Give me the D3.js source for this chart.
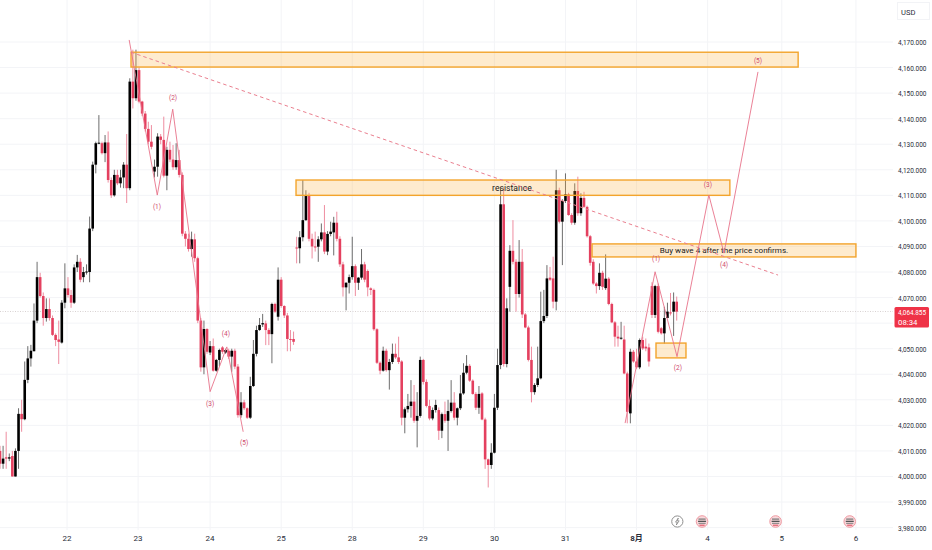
<!DOCTYPE html>
<html>
<head>
<meta charset="utf-8">
<script src="https://d3js.org/d3.v7.min.js"></script>
<style>
html,body{margin:0;padding:0;background:#fff;overflow:hidden}
svg{display:block;font-family:Roboto,"Noto Sans CJK SC",sans-serif}
</style>
</head>
<body>
<svg id="c" width="932" height="550"></svg>
<script>
// Hourly XAU/USD candles
const opens = [
4010,4005,4007.5,4007,4008,4000,4010,4024.5,4022.4,4037.8,
4046.2,4049,4061,4078,4070.6,4062,4065.5,4062,4055.4,4053.6,
4052.4,4068,4073.6,4071,4068,4081.8,4084,4078,4080,4080,
4097,4122,4130.4,4130.4,4126.5,4130.7,4116,4110,4118,4114.7,
4117,4122,4112.8,4154.5,4148,4159,4146.7,4142,4136,4131,
4119.3,4121.2,4133,4131.7,4117.7,4127.8,4124,4121,4123.8,4118,
4095,4093,4089,4092.8,4085.4,4061,4042.7,4057.7,4048.5,4051,
4041.4,4045.6,4050.5,4048.5,4049.2,4046.9,4049.2,4043,4024,4029,
4026.7,4023,4035.4,4048,4057.3,4059.5,4059.9,4057.3,4055.7,4067.5,
4062.5,4077,4066.7,4063,4053.8,4053.8,4089.6,4089.3,4093.6,4100.3,
4110,4093,4090,4089.9,4092.8,4095.5,4088,4094.9,4095.5,4099.3,
4093,4083,4074,4075.8,4078,4082.3,4075.8,4077.8,4083,4080.4,
4073.6,4073,4057.6,4044.5,4041.4,4049.2,4041.6,4044.8,4048,4046.6,
4045,4023,4026.3,4027.6,4029.3,4021.8,4023.7,4045.6,4037,4027.6,
4022.7,4026,4026,4017.9,4024.4,4021.8,4025.6,4028.9,4023,4026.7,
4032.5,4040.6,4043.3,4037.5,4032.3,4026.9,4032.5,4022.3,4006.7,4004.5,
4009.3,4026.9,4043.6,4106.5,4044,4074.2,4088.3,4084,4071.4,4084,
4063.4,4058.3,4045.6,4033,4035.8,4038.4,4060.8,4062.8,4077.8,4077.5,
4068.4,4112,4099.7,4107.8,4110.4,4102.3,4099.3,4111.7,4103,4109,
4105.5,4094,4084,4075.5,4074.5,4079.7,4073.7,4077.4,4067.5,4060.3,
4054.7,4054,4053.6,4040.3,4024.7,4048.8,4045,4042.7,4053.4,4050.8,
4050.5,4074.5,4063.2,4074.5,4058,4056,4062,4064.2,4064.5,4068.4];
const highs = [
4012,4012,4017.5,4009,4010,4011,4026.7,4030,4045,4051,
4051.5,4067.7,4084,4079.7,4072,4069.7,4069.7,4063,4056,4061,
4069,4083.4,4078,4073,4083,4086.7,4085.4,4082,4083,4101.7,
4123.2,4131,4141.4,4131,4133.6,4135,4117,4120,4120,4120,
4123,4134,4155.8,4167,4167,4160,4147,4143,4138.8,4137.5,
4124,4134.3,4134,4140.8,4129,4131,4129.7,4130.4,4127.8,4119,
4096,4095,4095.8,4095,4086,4062,4061,4058,4053,4054,
4046,4050,4051,4050,4050,4050,4050,4044,4033,4030,
4027,4039,4053.4,4059,4062,4063.6,4061,4058,4068,4068,
4081.8,4078,4067,4064,4057.3,4056.7,4093.8,4096,4116,4112,
4111,4095,4095.8,4094,4099,4106.2,4096,4099.7,4101.6,4103.6,
4094,4084,4076,4079,4093.8,4083,4078,4089,4084,4081,
4074,4073.5,4058,4045,4050.8,4050,4046,4052,4052,4054.7,
4045.5,4027,4032.3,4037.7,4035.8,4033,4046.9,4046,4038,4030,
4027,4030,4027,4025,4029.3,4030,4037.7,4033,4027,4039.7,
4044.3,4047.5,4044,4038,4033,4035.4,4033,4023,4007,4013,
4032.3,4050,4113,4113,4069.7,4090.5,4100.3,4085,4092.5,4089,
4064,4059,4050.8,4036.5,4050.8,4072.3,4073,4082.7,4082,4086,
4120,4113,4108.5,4118.6,4111,4103,4114.7,4117.3,4110.8,4111.4,
4106,4094.5,4085,4076,4083.4,4080.5,4086.9,4078,4068,4060.8,
4059,4060.5,4059,4041,4050,4049.5,4050,4054,4054.7,4054,
4052,4076,4075,4075.5,4058.5,4066.4,4068,4071.8,4072,4070.4];
const lows = [
4003,4003,4003,4006,4000,4000,4003,4017.5,4022,4036.5,
4043,4049,4060,4070,4059,4060.6,4061,4055,4051,4044,
4052,4065.8,4070,4066,4067.5,4080,4076,4076,4079,4076,
4096,4118.6,4130,4126,4123,4115,4109,4109.5,4114,4113,
4112.8,4107,4112,4144,4147,4146,4141,4135,4130,4128,
4117,4117.3,4130,4117,4112,4123,4120,4120,4117,4094,
4090,4088,4086,4084,4060,4041,4040,4048,4047.5,4041,
4041,4043.2,4048,4048,4046,4041,4042,4023,4023,4026,
4022.5,4022.5,4035,4047,4057,4058.5,4051.4,4051.4,4044.3,4064,
4061,4066,4062,4049,4049,4051.5,4083.4,4083.4,4092,4100,
4092,4085.3,4088,4084,4092,4087,4086.6,4094,4086.5,4092,
4082,4070.4,4065,4071.6,4077,4070.6,4073,4077,4076,4070.5,
4071,4057,4044,4040,4041,4041,4034,4044,4046,4044,
4020,4016.9,4025,4023,4021,4011.4,4023,4036,4027,4022,
4022,4025,4014.3,4015,4021,4010,4025,4022,4020,4026,
4032,4040,4037,4032,4026,4024.5,4022,4003,3995.7,4003,
4009,4026,4042,4043,4042.7,4064.5,4083,4064.5,4070,4062,
4058,4045,4029,4032,4035,4038,4060,4062,4076.5,4065.8,
4065,4099,4082.7,4107,4102,4098.5,4098.5,4102,4102,4105,
4093.5,4082.5,4075,4071.6,4073,4073,4073,4067,4060,4050.8,
4050.8,4053.5,4040,4020.8,4020.8,4044.5,4042,4042,4049.5,4049,
4043,4062,4062,4056,4055.5,4052,4062,4063,4055,4061];
const closes = [
4005,4007,4007,4007.5,4000,4010,4024.5,4022.4,4037.8,4046.2,
4049.2,4061,4078,4070.6,4062,4065.5,4062,4055.4,4053.4,4052.7,
4068,4073.6,4071,4068,4081.8,4084,4077,4080,4080.2,4097,
4122,4130.4,4130.6,4126.5,4130.7,4116,4110,4118,4114.7,4117,
4122,4112.8,4154.5,4148,4159,4146.7,4142,4136,4131,4129,
4121.2,4133,4131.7,4117.7,4127.8,4124,4121,4123.8,4118,4095,
4093,4089,4092.8,4085.4,4061,4042.7,4057.7,4048.8,4051,4041.4,
4045.6,4049.5,4048.8,4049.5,4046.9,4049.2,4043,4024,4029,4026.7,
4023,4035.4,4048,4057.3,4059.3,4060,4057.3,4055.7,4067.5,4064.5,
4077,4066.7,4063,4053.8,4053.6,4052.7,4089.3,4093.6,4100.3,4110,
4093,4090,4089.8,4092.8,4095.5,4088,4094.9,4095.8,4099.3,4093,
4083,4074,4075.8,4078,4082.3,4075.8,4077.8,4083,4077,4074,
4073,4057.6,4044.5,4041.4,4049.2,4041.6,4044.8,4048,4046.6,4044.8,
4023,4026.3,4027.6,4029.3,4021.8,4023.7,4045.6,4037,4027.6,4022.7,
4026,4028,4017.9,4024.4,4021.8,4025.6,4028.9,4023,4026.7,4032.5,
4040.6,4043.3,4037.5,4032.3,4026.9,4032.3,4022.3,4006.7,4004.5,4009.3,
4026.9,4043.6,4106.5,4044,4065.8,4088.3,4084,4071.4,4084,4063.4,
4058.3,4045.6,4033,4035.8,4038.4,4060.8,4062.8,4077.5,4077,4068.4,
4112,4099.7,4107.8,4110.4,4102.3,4099.3,4111.7,4103,4109,4105.5,
4094,4083.6,4075.5,4074.5,4079.7,4074.2,4077.4,4067.5,4060.3,4054.7,
4054,4054.3,4040.3,4025.3,4048.8,4045,4042.7,4053.4,4050.1,4050.1,
4045,4063.2,4074.5,4056.6,4056,4062,4064.5,4064,4068.4,4064.5];

const priceTicks = d3.range(3980, 4171, 10);
const hiddenPriceLabels = [4060]; // covered by the last-price badge in the reference
const dayLabels = ["22","23","24","25","28","29","30","31","8月","4","5","6"];
const dayBars = [21.7,44.7,68,91,114,137,160,183,206,229,253,277];
const lastPrice = 4064.855;
const lastPriceLabel = "4,064.855";
const countdownLabel = "08:34";
const currency = "USD";

// Drawings: [startBar, endBar, topPrice, bottomPrice]
const zoneBars = [[42.4,258.3],[95.8,236.2],[191.6,277],[212.3,222]];
const zonePrices = [[4166,4160.2],[4116,4110],[4091,4085.9],[4052.2,4046.4]];
const zoneTexts = ["","resistance","Buy wave 4 after the price confirms.",""];
const trendBars = [42.4,251.8];
const trendPrices = [4166,4078.8];
const waveABars = [41.8,50.9,55.9,68,73.4,78.7];
const waveAPrices = [4170.8,4110.1,4143.7,4033.2,4050.7,4017.5];
const waveBBars = [202.3,212,219.1,229.4,234.3,245.3];
const waveBPrices = [4020.9,4080.1,4046.9,4110.1,4087.4,4158.3];
const waveTexts = ["(1)","(2)","(3)","(4)","(5)"];
const waveALabelBars = [50.8,56,68,73.1,79];
const waveALabelPrices = [4105.4,4148.1,4028.4,4055.8,4013.1];
const waveBLabelBars = [212.3,219.4,229.1,234.3,245.3];
const waveBLabelPrices = [4085.1,4042.5,4114,4082.8,4162.6];
const flashBar = 219.2;
const eventBars = [227.2,251,275];

const svg = d3.select("#c");
const x = d3.scaleLinear().domain([0,300]).range([0,927]);
const y = d3.scaleLinear().domain([3980,4170]).range([527.6,42]);

const GRID = "#f3f4f7", RED = "#e4405f", REDW = "#ec8095", BLK = "#000", WICK = "#5c5c5c";

// grid
svg.append("g").selectAll("line").data(priceTicks).join("line")
  .attr("x1",0).attr("x2",893).attr("y1",d=>y(d)).attr("y2",d=>y(d))
  .attr("stroke",GRID).attr("stroke-width",1);
svg.append("g").selectAll("line").data(dayBars).join("line")
  .attr("x1",d=>x(d)).attr("x2",d=>x(d)).attr("y1",0).attr("y2",530)
  .attr("stroke",GRID).attr("stroke-width",1);

// last-price line
svg.append("line").attr("x1",0).attr("x2",893)
  .attr("y1",y(lastPrice)+0.8).attr("y2",y(lastPrice)+0.8)
  .attr("stroke","#d9d2d2").attr("stroke-width",1).attr("stroke-dasharray","1 1.5");

// candles
const bars = d3.range(opens.length).map(i=>({i,o:opens[i],h:highs[i],l:lows[i],c:closes[i]}));
const g = svg.append("g");
g.selectAll("line").data(bars).join("line")
  .attr("x1",d=>x(d.i)).attr("x2",d=>x(d.i))
  .attr("y1",d=>y(d.h)).attr("y2",d=>y(d.l))
  .attr("stroke",d=>d.c<d.o?REDW:WICK).attr("stroke-width",0.9);
g.selectAll("rect").data(bars).join("rect")
  .attr("x",d=>x(d.i)-1.3).attr("width",2.6)
  .attr("y",d=>y(Math.max(d.o,d.c)))
  .attr("height",d=>Math.max(1,Math.abs(y(d.o)-y(d.c))))
  .attr("fill",d=>d.c<d.o?RED:BLK);

// zones
const zg = svg.append("g");
zoneBars.forEach((b,k)=>{
  const X0=x(b[0]),X1=x(b[1]),Y0=y(zonePrices[k][0]),Y1=y(zonePrices[k][1]);
  zg.append("rect").attr("x",X0).attr("y",Y0).attr("width",X1-X0).attr("height",Y1-Y0)
    .attr("fill","#fbb03b").attr("fill-opacity",0.25)
    .attr("stroke","#f3a42c").attr("stroke-width",1.4);
  if(zoneTexts[k]) zg.append("text").attr("x",(X0+X1)/2 + (k==1?-1:0)).attr("y",(Y0+Y1)/2+3)
    .attr("text-anchor","middle").attr("font-size",k==1?8.6:8.1).attr("fill","#1a1a1a").text(zoneTexts[k]);
});

// trend line
svg.append("line").attr("x1",x(trendBars[0])).attr("x2",x(trendBars[1]))
  .attr("y1",y(trendPrices[0])).attr("y2",y(trendPrices[1]))
  .attr("stroke","#ea7f8f").attr("stroke-width",1).attr("stroke-dasharray","3.5 3");

// waves
const line = d3.line().x(d=>x(d[0])).y(d=>y(d[1]));
[[waveABars,waveAPrices],[waveBBars,waveBPrices]].forEach(([bs,ps])=>{
  svg.append("path").attr("d",line(bs.map((b,i)=>[b,ps[i]])))
    .attr("fill","none").attr("stroke","#e8738a").attr("stroke-width",0.9);
});
[[waveALabelBars,waveALabelPrices],[waveBLabelBars,waveBLabelPrices]].forEach(([bs,ps])=>{
  svg.append("g").selectAll("text").data(waveTexts).join("text")
    .attr("x",(d,i)=>x(bs[i])).attr("y",(d,i)=>y(ps[i])+2.3)
    .attr("text-anchor","middle").attr("font-size",6.5).attr("fill","#cf4a6c").text(d=>d);
});

// event icons
const ey = 521.5;
const fl = svg.append("g").attr("transform",`translate(${x(flashBar)},${ey})`);
fl.append("circle").attr("r",5.6).attr("fill","#fff").attr("stroke","#8f8f8f").attr("stroke-width",1);
fl.append("path").attr("d","M1,-3.5 L-1.8,0.6 L0,0.6 L-1,3.5 L1.8,-0.7 L0,-0.7 Z").attr("fill","none").attr("stroke","#777").attr("stroke-width",0.7);
eventBars.forEach(b=>{
  const e = svg.append("g").attr("transform",`translate(${x(b)},${ey})`);
  e.append("circle").attr("r",5.8).attr("fill","#f9d9dc").attr("stroke","#ef9aa2").attr("stroke-width",1);
  e.append("rect").attr("x",-3.6).attr("y",-3).attr("width",7.2).attr("height",1.2).attr("fill","#777");
  e.append("rect").attr("x",-4).attr("y",-0.8).attr("width",8).attr("height",1.3).attr("fill","#555");
  e.append("rect").attr("x",-3.6).attr("y",1.3).attr("width",7.2).attr("height",1.1).attr("fill","#888");
  e.append("rect").attr("x",-2.6).attr("y",3.2).attr("width",5.2).attr("height",1).attr("fill","#e0465a");
});

// right axis
const axisG = svg.append("g");
axisG.selectAll("text").data(priceTicks.filter(p=>!hiddenPriceLabels.includes(p))).join("text")
  .attr("x",898).attr("y",d=>y(d)+3).attr("font-size",8)
  .attr("textLength",28.5).attr("lengthAdjust","spacingAndGlyphs")
  .attr("fill","#2a2e39").text(d=>d3.format(",.3f")(d));
svg.append("rect").attr("x",897.5).attr("y",2.5).attr("width",32).attr("height",17)
  .attr("fill","#fff").attr("stroke","#f2f3f6");
svg.append("text").attr("x",901).attr("y",14.5).attr("font-size",7.6).attr("fill","#2a2e39").text(currency);

// last price badge
svg.append("rect").attr("x",894.5).attr("y",307).attr("width",34.5).attr("height",20.5).attr("rx",1.5).attr("fill","#ef3347");
svg.append("text").attr("x",898).attr("y",315).attr("font-size",8).attr("textLength",28)
  .attr("lengthAdjust","spacingAndGlyphs").attr("fill","#fff").text(lastPriceLabel);
svg.append("text").attr("x",898).attr("y",324.5).attr("font-size",7.8).attr("fill","#fff").text(countdownLabel);

// time axis
svg.append("g").selectAll("text").data(dayLabels).join("text")
  .attr("x",(d,i)=>x(dayBars[i])).attr("y",541)
  .attr("text-anchor","middle").attr("font-size",8)
  .attr("font-weight",d=>d==="8月"?700:400)
  .attr("fill","#2a2e39").text(d=>d);
</script>
</body>
</html>
